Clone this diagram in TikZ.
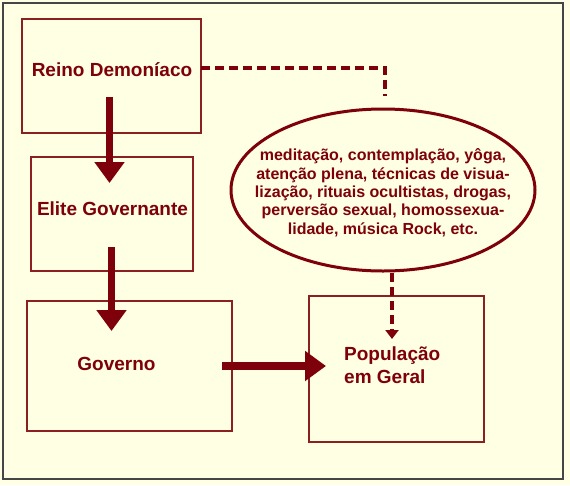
\documentclass[tikz,border=0pt]{standalone}
\usepackage{fontspec}
\setmainfont{Liberation Sans}
\usetikzlibrary{arrows.meta,calc,shapes.geometric}
\definecolor{bgc}{RGB}{255,255,228}
\definecolor{darkred}{RGB}{125,0,10}
\definecolor{boxc}{RGB}{138,32,32}
\definecolor{framec}{RGB}{70,70,70}
\begin{document}
\begin{tikzpicture}[x=1pt,y=-1pt,
  box/.style={draw=boxc, line width=2.2pt, inner sep=0pt, outer sep=0pt},
  lbl/.style={text=darkred, font=\bfseries\fontsize{19}{23}\selectfont, inner sep=0pt},
  bigarrow/.style={draw=darkred, line width=7.5pt, -{Triangle[width=29pt,length=21pt]}},
  dasharrow/.style={draw=darkred, line width=4pt, dash pattern=on 9pt off 5pt},
]
\useasboundingbox (0,0) rectangle (570,485);
\fill[bgc] (0,0) rectangle (570,485);
\node[draw=framec, line width=1.5pt, minimum width=560pt, minimum height=476pt, inner sep=0pt] (frame) at (283,241) {};

\node[box, minimum width=179pt, minimum height=114pt] (reino) at (111.5,76) {};
\node[box, minimum width=162pt, minimum height=114pt] (elite) at (112,214) {};
\node[box, minimum width=205pt, minimum height=130pt] (gov) at (129.5,366) {};
\node[box, minimum width=175pt, minimum height=146pt] (pop) at (396.5,369) {};
\node[ellipse, draw=darkred, line width=3pt, minimum width=304pt, minimum height=162pt, inner sep=0pt] (ell) at (383,190) {};

\node[lbl, anchor=base] (treino) at (112,76) {Reino Demoníaco};
\node[lbl, anchor=base] (telite) at (112.5,215) {Elite Governante};
\node[lbl, anchor=base] (tgov) at (116.5,370) {Governo};
\node[lbl, anchor=base west, align=left] (tpop) at (344,383) {População\\em Geral};
\node[text=darkred, font=\bfseries\fontsize{16}{18.3}\selectfont, inner sep=0pt, align=center, anchor=base] (tell) at (383,234)
  {meditação, contemplação, yôga,\\atenção plena, técnicas de visua-\\lização, rituais ocultistas, drogas,\\perversão sexual, homossexua-\\lidade, música Rock, etc.};

\coordinate (a1s) at (109.5,97);
\coordinate (a1e) at (109.5,183);
\coordinate (a2s) at (111.5,247);
\coordinate (a2e) at (111.5,331);
\coordinate (a3s) at (222,366);
\coordinate (a3e) at (326,366);
\coordinate (d1) at (201,68);
\coordinate (d2) at (385,96);
\coordinate (d3) at (392,273);
\coordinate (d4) at (392,339);

\draw[bigarrow] (a1s) -- (a1e);
\draw[bigarrow] (a2s) -- (a2e);
\draw[bigarrow] (a3s) -- (a3e);
\draw[dasharrow] (d1) -| (d2);
\draw[dasharrow, -{Triangle[width=13pt,length=9pt]}] (d3) -- (d4);
\end{tikzpicture}
\end{document}
